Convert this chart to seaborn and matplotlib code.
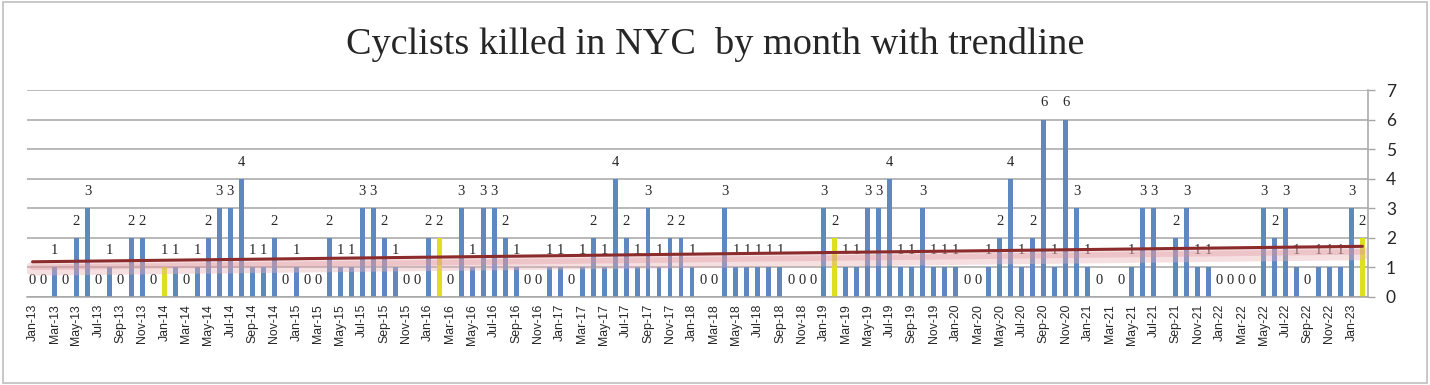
import numpy as np
import pandas as pd
import matplotlib
matplotlib.use("Agg")
import matplotlib.pyplot as plt
import matplotlib.patheffects as pe
from matplotlib.patches import Rectangle
from matplotlib.ticker import FixedLocator, NullFormatter
import seaborn as sns

# Monthly cyclist deaths, Jan-13 .. Feb-23 (NaN = no entry in the source sheet)
deaths_2013 = [0, 0, 1, 0, 2, 3, 0, 1, 0, 2, 2, 0]
deaths_2014 = [1, 1, 0, 1, 2, 3, 3, 4, 1, 1, 2, 0]
deaths_2015 = [1, 0, 0, 2, 1, 1, 3, 3, 2, 1, 0, 0]
deaths_2016 = [2, 2, 0, 3, 1, 3, 3, 2, 1, 0, 0, 1]
deaths_2017 = [1, 0, 1, 2, 1, 4, 2, 1, 3, 1, 2, 2]
deaths_2018 = [1, 0, 0, 3, 1, 1, 1, 1, 1, 0, 0, 0]
deaths_2019 = [3, 2, 1, 1, 3, 3, 4, 1, 1, 3, 1, 1]
deaths_2020 = [1, 0, 0, 1, 2, 4, 1, 2, 6, 1, 6, 3]
deaths_2021 = [1, 0, np.nan, 0, 1, 3, 3, np.nan, 2, 3, 1, 1]
deaths_2022 = [0, 0, 0, 0, 3, 2, 3, 1, 0, 1, 1, 1]
deaths_2023 = [3, 2]

# months drawn in yellow
highlight_months = ["Jan-14", "Feb-16", "Feb-19", "Feb-23"]

years = [2013, 2014, 2015, 2016, 2017, 2018, 2019, 2020, 2021, 2022, 2023]
month_names = ["Jan", "Feb", "Mar", "Apr", "May", "Jun",
               "Jul", "Aug", "Sep", "Oct", "Nov", "Dec"]

deaths = (deaths_2013 + deaths_2014 + deaths_2015 + deaths_2016 + deaths_2017
          + deaths_2018 + deaths_2019 + deaths_2020 + deaths_2021 + deaths_2022
          + deaths_2023)
labels = [f"{m}-{str(y)[2:]}" for y in years for m in month_names][:len(deaths)]

df = pd.DataFrame({"pos": np.arange(len(deaths)), "month": labels, "deaths": deaths})
df["kind"] = np.where(df["month"].isin(highlight_months), "hi", "normal")

sns.set_style("white")
plt.rcParams["font.family"] = ["Lato", "DejaVu Sans"]

fig = plt.figure(figsize=(14.3, 3.85), dpi=100)
ax = fig.add_axes([0.0189, 0.2286, 0.9377, 0.5374])

grid_col = "#a6a6a6"
for yv in range(0, 8):
    ax.axhline(yv, color=grid_col, lw=1.1, zorder=0)

sns.barplot(data=df, x="pos", y="deaths", hue="kind",
            palette={"normal": "#4f86d0", "hi": "#ffff00"},
            native_scale=True, dodge=False, width=0.45, errorbar=None,
            legend=False, linewidth=0, ax=ax, zorder=2)

# data labels
for _, r in df.dropna(subset=["deaths"]).iterrows():
    ax.annotate(f"{int(r['deaths'])}", (r["pos"], r["deaths"]),
                xytext=(0, 12), textcoords="offset points",
                ha="center", va="center", fontsize=10.5,
                family=["Liberation Serif", "DejaVu Serif"], zorder=3)

# linear trendline
sns.regplot(data=df, x="pos", y="deaths", scatter=False, ci=None,
            truncate=True, ax=ax,
            line_kws={"color": "#8b2b2b", "lw": 2.2, "zorder": 4})
trend = ax.lines[-1]
trend.set_path_effects([
    pe.SimpleLineShadow(offset=(0, -5), shadow_color="#eab0b6", alpha=0.4, linewidth=10),
    pe.SimpleLineShadow(offset=(0, -4), shadow_color="#d98c94", alpha=0.3, linewidth=4),
    pe.Normal(),
])

ax.set_xlim(-0.5, len(deaths) - 0.5)
ax.set_ylim(0, 7)

# x axis: labels every second month, tick marks on month boundaries
ax.xaxis.set_major_locator(FixedLocator(df["pos"][::2].tolist()))
ax.set_xticklabels(df["month"][::2].tolist(), rotation=90, fontsize=8.8,
                   family=["Liberation Sans", "DejaVu Sans"])
ax.xaxis.set_minor_locator(FixedLocator(np.arange(-0.5, len(deaths), 2)))
ax.xaxis.set_minor_formatter(NullFormatter())
ax.tick_params(axis="x", which="major", length=0, pad=5)
ax.tick_params(axis="x", which="minor", length=5, width=1, color=grid_col,
               direction="out")

ax.yaxis.tick_right()
ax.set_yticks(range(0, 8))
ax.tick_params(axis="y", length=5, width=1, color=grid_col, pad=8,
               labelsize=12.5, direction="out")
ax.set_xlabel("")
ax.set_ylabel("")

for side in ["top", "left"]:
    ax.spines[side].set_visible(False)
for side in ["right", "bottom"]:
    ax.spines[side].set_color(grid_col)
    ax.spines[side].set_linewidth(1.1)

fig.text(0.5, 0.885, "Cyclists killed in NYC  by month with trendline",
         ha="center", va="center", fontsize=27.5,
         family=["Liberation Serif", "DejaVu Serif"])

fig.patches.append(Rectangle((0.002, 0.006), 0.996, 0.99, transform=fig.transFigure,
                             fill=False, edgecolor="#bfbfbf", lw=1.2))

fig.savefig("out.png", dpi=100)
